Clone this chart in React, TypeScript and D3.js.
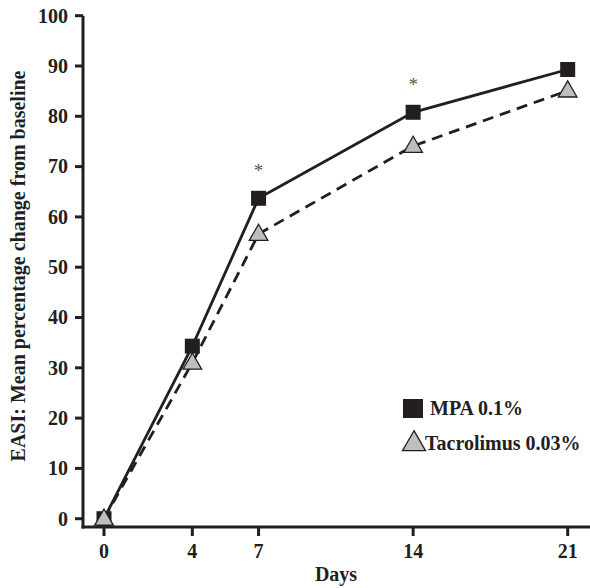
import React, { useEffect, useRef } from 'react';
import * as d3 from 'd3';

const days = [0, 4, 7, 14, 21];
const mpa = [0, 34.3, 63.7, 80.8, 89.3];
const tacrolimus = [0, 31, 56.6, 74.1, 85.1];
const yTicks = [0, 10, 20, 30, 40, 50, 60, 70, 80, 90, 100];
const starDays = [7, 14];
const seriesNames = ['MPA 0.1%', 'Tacrolimus 0.03%'];

const App = () => {
  const ref = useRef<SVGSVGElement | null>(null);

  useEffect(() => {
    const width = 590;
    const height = 588;
    const svg = d3.select(ref.current).attr('width', width).attr('height', height);
    svg.selectAll('*').remove();

    const font = '"Liberation Serif", "Times New Roman", serif';
    const ink = '#231f20';
    const fs = 20;

    const x = d3.scaleLinear().domain([0, 21]).range([104, 567.7]);
    const y = d3.scaleLinear().domain([0, 100]).range([518.7, 15.7]);
    const axisX = 83;
    const axisY = 527;

    // axes
    svg.append('line')
      .attr('x1', axisX).attr('x2', axisX)
      .attr('y1', y(100)).attr('y2', axisY + 1.5)
      .attr('stroke', ink).attr('stroke-width', 3);
    svg.append('line')
      .attr('x1', axisX - 1.5).attr('x2', width)
      .attr('y1', axisY).attr('y2', axisY)
      .attr('stroke', ink).attr('stroke-width', 3);

    // y ticks
    yTicks.forEach((t) => {
      svg.append('line')
        .attr('x1', axisX - 8).attr('x2', axisX)
        .attr('y1', y(t)).attr('y2', y(t))
        .attr('stroke', ink).attr('stroke-width', 3);
      svg.append('text')
        .attr('x', 68).attr('y', y(t) + 6.8)
        .attr('text-anchor', 'end')
        .attr('font-family', font).attr('font-weight', 'bold').attr('font-size', fs)
        .attr('fill', ink)
        .text(t);
    });

    // x ticks
    days.forEach((d) => {
      svg.append('line')
        .attr('x1', x(d)).attr('x2', x(d))
        .attr('y1', axisY).attr('y2', axisY + 9)
        .attr('stroke', ink).attr('stroke-width', 3);
      svg.append('text')
        .attr('x', x(d)).attr('y', 558)
        .attr('text-anchor', 'middle')
        .attr('font-family', font).attr('font-weight', 'bold').attr('font-size', fs)
        .attr('fill', ink)
        .text(d);
    });

    // axis titles
    svg.append('text')
      .attr('x', 336).attr('y', 581)
      .attr('text-anchor', 'middle')
      .attr('font-family', font).attr('font-weight', 'bold').attr('font-size', fs)
      .attr('fill', ink)
      .text('Days');
    svg.append('text')
      .attr('transform', 'translate(25, 266) rotate(-90)')
      .attr('text-anchor', 'middle')
      .attr('font-family', font).attr('font-weight', 'bold').attr('font-size', fs)
      .attr('fill', ink)
      .text('EASI: Mean percentage change from baseline');

    const line = d3.line<number>().x((_, i) => x(days[i])).y((v) => y(v));

    svg.append('path')
      .attr('d', line(tacrolimus))
      .attr('fill', 'none').attr('stroke', ink).attr('stroke-width', 2.8)
      .attr('stroke-dasharray', '11,7');
    svg.append('path')
      .attr('d', line(mpa))
      .attr('fill', 'none').attr('stroke', ink).attr('stroke-width', 2.8);

    const tri = d3.symbol().type(d3.symbolTriangle).size(150);
    const sq = 15;

    mpa.forEach((v, i) => {
      svg.append('rect')
        .attr('x', x(days[i]) - sq / 2).attr('y', y(v) - sq / 2)
        .attr('width', sq).attr('height', sq)
        .attr('fill', ink);
    });
    tacrolimus.forEach((v, i) => {
      svg.append('path')
        .attr('d', tri)
        .attr('transform', `translate(${x(days[i])},${y(v) + 1})`)
        .attr('fill', '#bcbec0').attr('stroke', ink).attr('stroke-width', 1.3);
    });

    // significance markers
    starDays.forEach((d) => {
      const i = days.indexOf(d);
      svg.append('text')
        .attr('x', x(d)).attr('y', y(mpa[i]) - 21)
        .attr('text-anchor', 'middle')
        .attr('font-family', font).attr('font-size', 19)
        .attr('fill', '#555')
        .text('*');
    });

    // legend
    svg.append('rect')
      .attr('x', 403).attr('y', 399).attr('width', 20).attr('height', 19)
      .attr('fill', ink);
    svg.append('path')
      .attr('d', d3.symbol().type(d3.symbolTriangle).size(230)())
      .attr('transform', 'translate(414,444)')
      .attr('fill', '#bcbec0').attr('stroke', ink).attr('stroke-width', 1.3);
    seriesNames.forEach((name, i) => {
      svg.append('text')
        .attr('x', i === 0 ? 430 : 425).attr('y', i === 0 ? 415 : 450)
        .attr('font-family', font).attr('font-weight', 'bold').attr('font-size', fs)
        .attr('fill', ink)
        .text(name);
    });
  }, []);

  return <svg ref={ref} style={{ position: 'absolute', left: 0, top: 0 }} />;
};

export default App;
